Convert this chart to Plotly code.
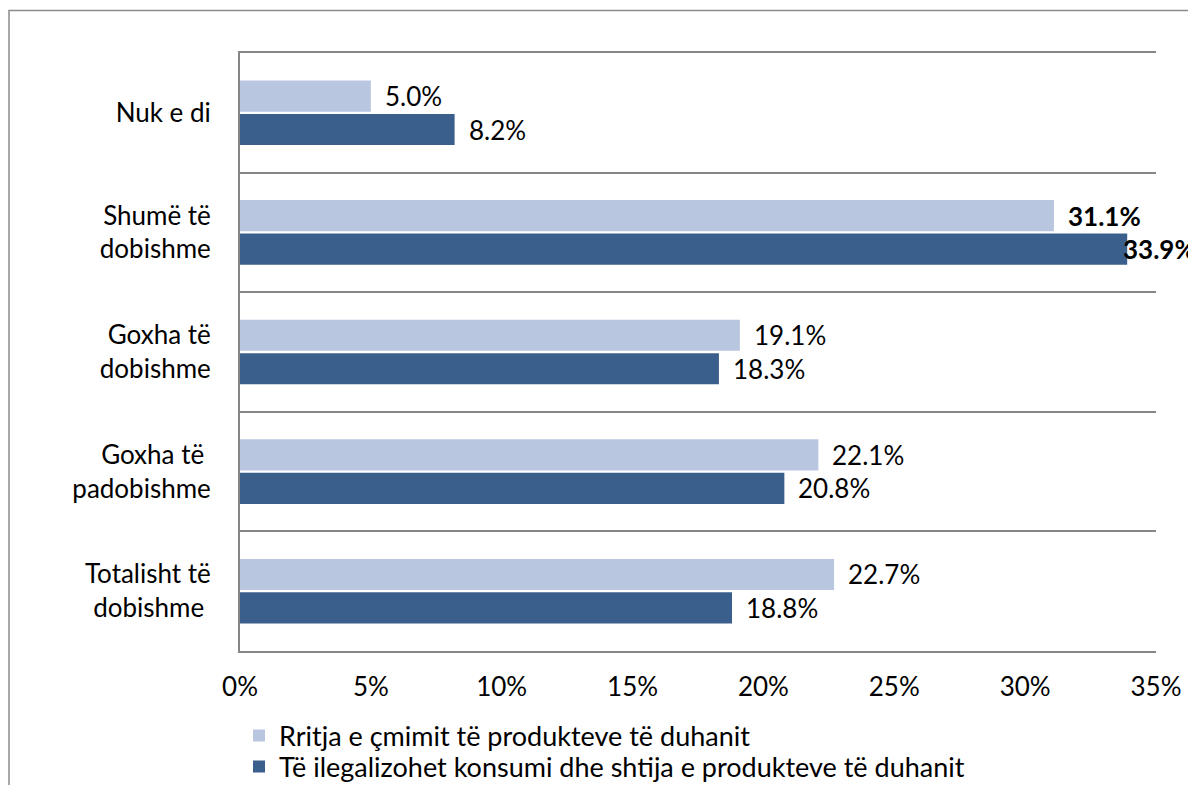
import plotly.graph_objects as go

categories = ["Nuk e di", "Shumë të<br>dobishme", "Goxha të<br>dobishme", "Goxha të <br>padobishme", "Totalisht të<br>dobishme "]
series_names = ["Rritja e çmimit të produkteve të duhanit",
                "Të ilegalizohet konsumi dhe shtija e produkteve të duhanit"]
price_rise = [5.0, 31.1, 19.1, 22.1, 22.7]
illegalize = [8.2, 33.9, 18.3, 20.8, 18.8]
bold_labels = [False, True, False, False, False]
x_ticks = [0, 5, 10, 15, 20, 25, 30, 35]

colors = ["#B9C6E0", "#3B5F8D"]
FONT = "Lato"
FS = 26
X_MAX = 35
W, H = 1196, 785
# page body has an 8px default offset; margins compensate for it
ML, MR, MT, MB = 232, 48, 45, 142
PW, PH = W - ML - MR, H - MT - MB
legend_ids = ["legend", "legend2"]
legend_centers = [728, 759]  # px from figure top

fig = go.Figure()
for name, vals, col, lg in zip(series_names, [price_rise, illegalize], colors, legend_ids):
    fig.add_trace(go.Bar(
        y=categories, x=vals, name=name, orientation="h",
        marker=dict(color=col, line=dict(width=0)), legend=lg,
    ))

legend_layout = {}
for lg, yc in zip(legend_ids, legend_centers):
    legend_layout[lg] = dict(
        xref="container", yref="container",
        x=231 / W, y=1 - yc / H, xanchor="left", yanchor="middle",
        orientation="v", font=dict(family=FONT, size=27),
        itemclick=False, bgcolor="rgba(0,0,0,0)", borderwidth=0)

fig.update_layout(
    template="none",
    width=W, height=H,
    barmode="group", bargap=0.44, bargroupgap=0.07,
    paper_bgcolor="white", plot_bgcolor="white",
    margin=dict(l=ML, r=MR, t=MT, b=MB, pad=0, autoexpand=False),
    font=dict(family=FONT, size=FS, color="#000000"),
    showlegend=True,
    **legend_layout,
    xaxis=dict(range=[0, X_MAX], tickvals=x_ticks, ticktext=[f"{t}%" for t in x_ticks],
               showgrid=False, zeroline=False, showline=True, mirror=True,
               linecolor="#868686", linewidth=2, ticks="", ticklabelstandoff=12,
               automargin=False, tickfont=dict(family=FONT, size=FS)),
    yaxis=dict(autorange="reversed", tickson="boundaries", showgrid=True,
               gridcolor="#868686", gridwidth=2, showline=True, zeroline=False,
               linecolor="#868686", linewidth=2, ticks="", ticklabelstandoff=22,
               automargin=False, tickfont=dict(family=FONT, size=FS)),
    shapes=[dict(type="rect", xref="paper", yref="paper",
                 x0=(1 - ML) / PW, x1=1.08, y0=-0.3, y1=1 + (MT - 2.5) / PH,
                 line=dict(color="#8C8C8C", width=1.5), fillcolor="rgba(0,0,0,0)",
                 layer="below")],
)

# data labels, one per bar, placed through the axes
n = len(series_names)
group_width = 1 - 0.44
bar_w = group_width / n
annotations = []
for si, vals in enumerate([price_rise, illegalize]):
    offset = -group_width / 2 + bar_w * (si + 0.5)
    for ci, v in enumerate(vals):
        t = f"{v:.1f}%"
        if bold_labels[ci]:
            t = f"<b>{t}</b>"
        fits = v < X_MAX - 2.5
        annotations.append(dict(
            x=v, y=ci + offset, xref="x", yref="y", text=t, showarrow=False,
            xanchor="left", yanchor="middle", xshift=12 if fits else -6,
            font=dict(family=FONT, size=FS, color="#000000"),
        ))
fig.update_layout(annotations=annotations)

fig.write_html("out.html")
